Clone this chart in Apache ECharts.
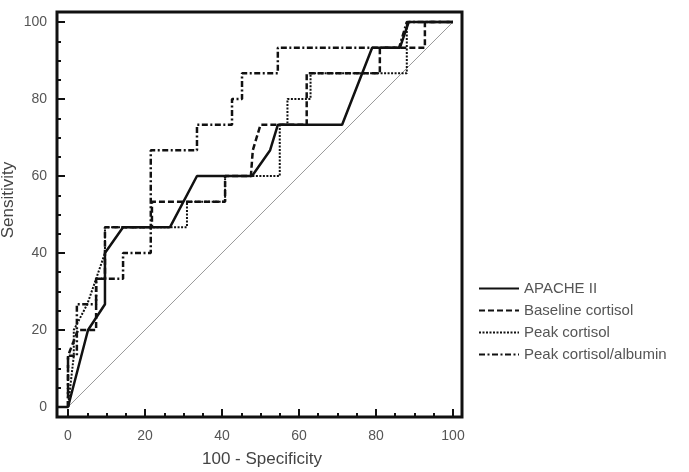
<!DOCTYPE html>
<html>
<head>
<meta charset="utf-8">
<script src="https://cdn.jsdelivr.net/npm/echarts@6/dist/echarts.min.js"></script>
<style>
  html, body { margin: 0; padding: 0; background: #fff; }
  #roc { width: 689px; height: 472px; }
</style>
</head>
<body>
<div id="roc"></div>
<script>
// ROC curves, 100 - specificity (x) vs sensitivity (y)
var apacheX   = [-3, 0, 5.2, 9.6, 9.6, 10.1, 14.3, 26.5, 33.5, 47.8, 52.5, 54.5, 71.2, 79, 86.2, 88.5, 100];
var apacheY   = [0, 0, 20, 26.7, 40, 40, 46.7, 46.7, 60, 60, 66.7, 73.3, 73.3, 93.3, 93.3, 100, 100];

var baseX     = [0, 0, 2.6, 7.3, 7.3, 9.6, 9.6, 21.8, 21.8, 40.8, 40.8, 47.5, 48, 50, 62, 62, 81, 81, 92.7, 92.7, 100];
var baseY     = [0, 13.3, 20, 20, 33.3, 33.3, 46.7, 46.7, 53.3, 53.3, 60, 60, 66.7, 73.3, 73.3, 86.7, 86.7, 93.3, 93.3, 100, 100];

var peakX     = [0, 1.5, 1.5, 5, 7.3, 9.6, 9.6, 30.9, 30.9, 40.8, 40.8, 55, 55, 57, 57, 63, 63, 88, 88, 100];
var peakY     = [0, 13.3, 20, 26.7, 33.3, 40, 46.7, 46.7, 53.3, 53.3, 60, 60, 73.3, 73.3, 80, 80, 86.7, 86.7, 100, 100];

var ratioX    = [0, 0, 2.3, 2.3, 7.3, 7.3, 14.3, 14.3, 21.5, 21.5, 33.5, 33.5, 42.6, 42.6, 45.2, 45.2, 54.5, 54.5, 86, 88, 100];
var ratioY    = [0, 13.3, 13.3, 26.7, 26.7, 33.3, 33.3, 40, 40, 66.7, 66.7, 73.3, 73.3, 80, 80, 86.7, 86.7, 93.3, 93.3, 100, 100];

var refX      = [0, 100];
var refY      = [0, 100];

var names     = ['APACHE II', 'Baseline cortisol', 'Peak cortisol', 'Peak cortisol/albumin'];
var labelTicks = [0, 20, 40, 60, 80, 100];
var minorTicks = [0, 5, 10, 15, 20, 25, 30, 35, 40, 45, 50, 55, 60, 65, 70, 75, 80, 85, 90, 95, 100];

function pairs(xs, ys) {
  var out = [];
  xs.forEach(function(x, i) { out.push([x, ys[i]]); });
  return out;
}

var font = 'Liberation Sans, Arial, sans-serif';
var dom = document.getElementById('roc');
var myChart = echarts.init(dom, null, { renderer: 'canvas' });

function curve(name, xs, ys, type, width) {
  return {
    name: name,
    type: 'line',
    data: pairs(xs, ys),
    symbol: 'none',
    showSymbol: false,
    clip: true,
    color: '#111',
    lineStyle: { color: '#111', width: width, type: type },
    z: 3
  };
}

function axisPair(dim, min, max) {
  var major = {
    type: 'value',
    min: min,
    max: max,
    axisLine: { show: false, onZero: false },
    splitLine: { show: false },
    axisTick: {
      show: true, inside: true, length: 8, customValues: labelTicks,
      lineStyle: { color: '#111', width: 2 }
    },
    axisLabel: {
      show: true, customValues: labelTicks, margin: dim === 'x' ? 12 : 10,
      color: '#555', fontSize: 14, fontFamily: font
    }
  };
  var minor = {
    type: 'value',
    min: min,
    max: max,
    axisLine: { show: false, onZero: false },
    splitLine: { show: false },
    axisLabel: { show: false },
    axisTick: {
      show: true, inside: true, length: 4, customValues: minorTicks,
      lineStyle: { color: '#111', width: 2 }
    }
  };
  if (dim === 'x') { major.position = 'bottom'; minor.position = 'bottom'; }
  else { major.position = 'left'; minor.position = 'left'; }
  return [major, minor];
}

var option = {
  animation: false,
  backgroundColor: '#fff',
  grid: {
    left: 57, right: 227, top: 12, bottom: 55,
    show: true, borderColor: '#111', borderWidth: 3, backgroundColor: 'transparent'
  },
  legend: {
    orient: 'vertical',
    left: 478,
    top: 281,
    padding: 0,
    itemWidth: 40,
    itemHeight: 14,
    itemGap: 7,
    data: names,
    itemStyle: { opacity: 0 },
    textStyle: { color: '#555', fontSize: 15, fontFamily: font }
  },
  xAxis: axisPair('x', -2.86, 102.34),
  yAxis: axisPair('y', -2.6, 102.6),
  graphic: [
    {
      type: 'text', x: 262, y: 451,
      style: { text: '100 - Specificity', fill: '#444', font: '17px ' + font, align: 'center' }
    },
    {
      type: 'text', x: 0, y: 200, rotation: Math.PI / 2,
      style: { text: 'Sensitivity', fill: '#444', font: '17px ' + font, align: 'center', verticalAlign: 'top' }
    }
  ],
  series: [
    {
      name: 'reference',
      type: 'line',
      data: pairs(refX, refY),
      symbol: 'none',
      silent: true,
      lineStyle: { color: '#9a9a9a', width: 1 },
      z: 2
    },
    curve(names[0], apacheX, apacheY, 'solid', 2.5),
    curve(names[1], baseX, baseY, [6, 3], 2.5),
    curve(names[2], peakX, peakY, [2, 1.5], 2),
    curve(names[3], ratioX, ratioY, [6, 2.5, 2, 2.5], 2.5)
  ]
};

if (option && typeof option === 'object') {
  myChart.setOption(option, true);
}
</script>
</body>
</html>
